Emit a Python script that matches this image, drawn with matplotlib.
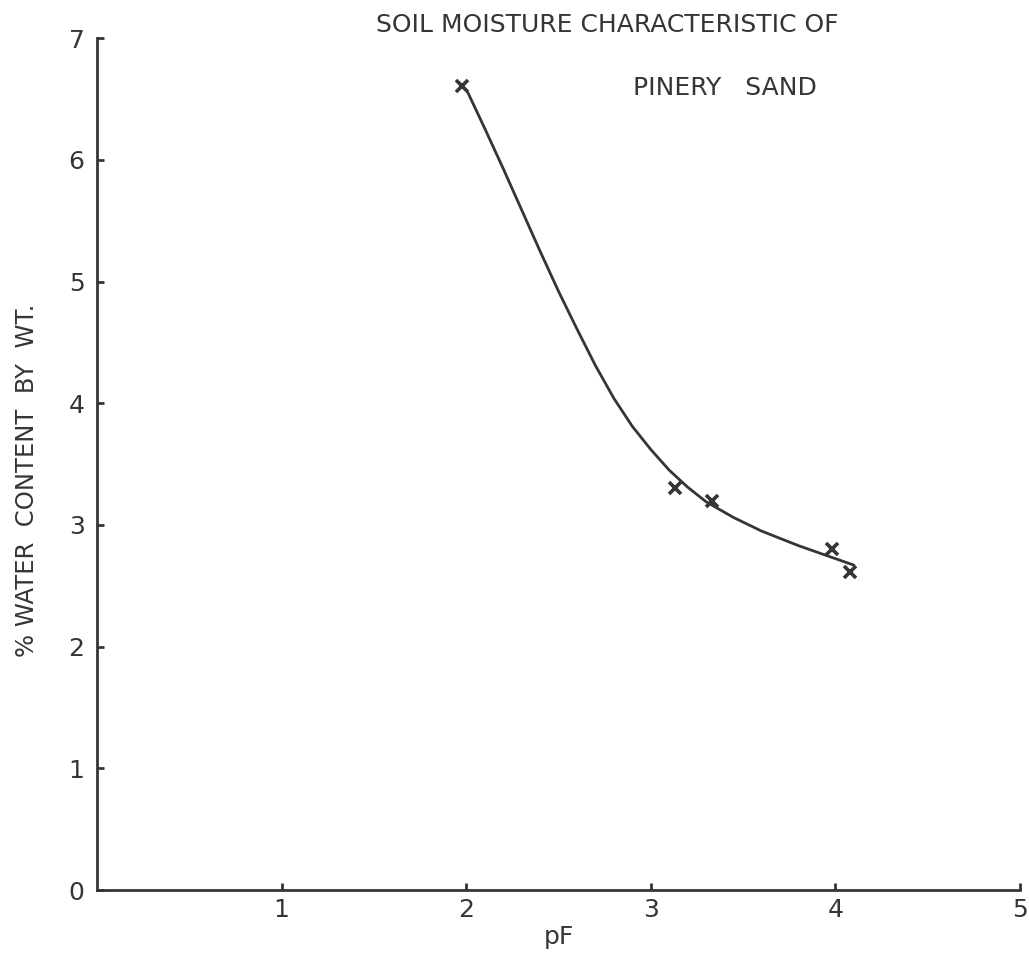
import numpy as np
from matplotlib import pyplot as plt

# measured points (pF, % water content by weight)
pf = [1.975, 3.13, 3.33, 3.98, 4.08]
water = [6.61, 3.30, 3.20, 2.80, 2.61]

# hand drawn fitted curve
curve_pf = [2.01, 2.10, 2.20, 2.30, 2.40, 2.50, 2.60, 2.70, 2.80, 2.90,
            3.00, 3.10, 3.20, 3.30, 3.45, 3.60, 3.80, 3.95, 4.10]
curve_w = [6.55, 6.26, 5.93, 5.59, 5.25, 4.92, 4.61, 4.31, 4.04, 3.81,
           3.62, 3.45, 3.31, 3.19, 3.06, 2.95, 2.83, 2.75, 2.67]

xticks = [1, 2, 3, 4, 5]
yticks = [0, 1, 2, 3, 4, 5, 6, 7]

ink = '#353535'
plt.rcParams['font.family'] = ['DejaVu Sans']

fig = plt.figure(figsize=(10.29, 9.57), dpi=100)
ax = fig.add_axes([0.0943, 0.070, 0.897, 0.890])

ax.plot(curve_pf, curve_w, color=ink, lw=2.0, solid_capstyle='round',
        solid_joinstyle='round')
ax.plot(pf, water, linestyle='none', marker='x', color=ink, ms=8, mew=2.6)

ax.set_xlim(0, 5)
ax.set_ylim(0, 7)
for s in ['top', 'right']:
    ax.spines[s].set_visible(False)
for s in ['left', 'bottom']:
    ax.spines[s].set_color(ink)
    ax.spines[s].set_linewidth(2.0)

ax.set_xticks(xticks)
ax.set_yticks(yticks)
ax.tick_params(direction='in', length=5, width=2, colors=ink,
               labelsize=18, pad=6)
ax.tick_params(axis='y', pad=9)
ax.set_yticklabels([str(t) for t in yticks])

ax.set_xlabel('pF', fontsize=18, color=ink, labelpad=2)
ax.set_ylabel('% WATER  CONTENT  BY  WT.', fontsize=17.5, color=ink)
ax.yaxis.set_label_coords(-0.076, 0.481)
ax.yaxis.label.set_va('center')

fig.text(0.5905, 0.974, 'SOIL MOISTURE CHARACTERISTIC OF', ha='center', va='center',
         fontsize=18, color=ink)
fig.text(0.7045, 0.908, 'PINERY   SAND', ha='center', va='center',
         fontsize=18, color=ink)

plt.savefig('out.png', dpi=100)
